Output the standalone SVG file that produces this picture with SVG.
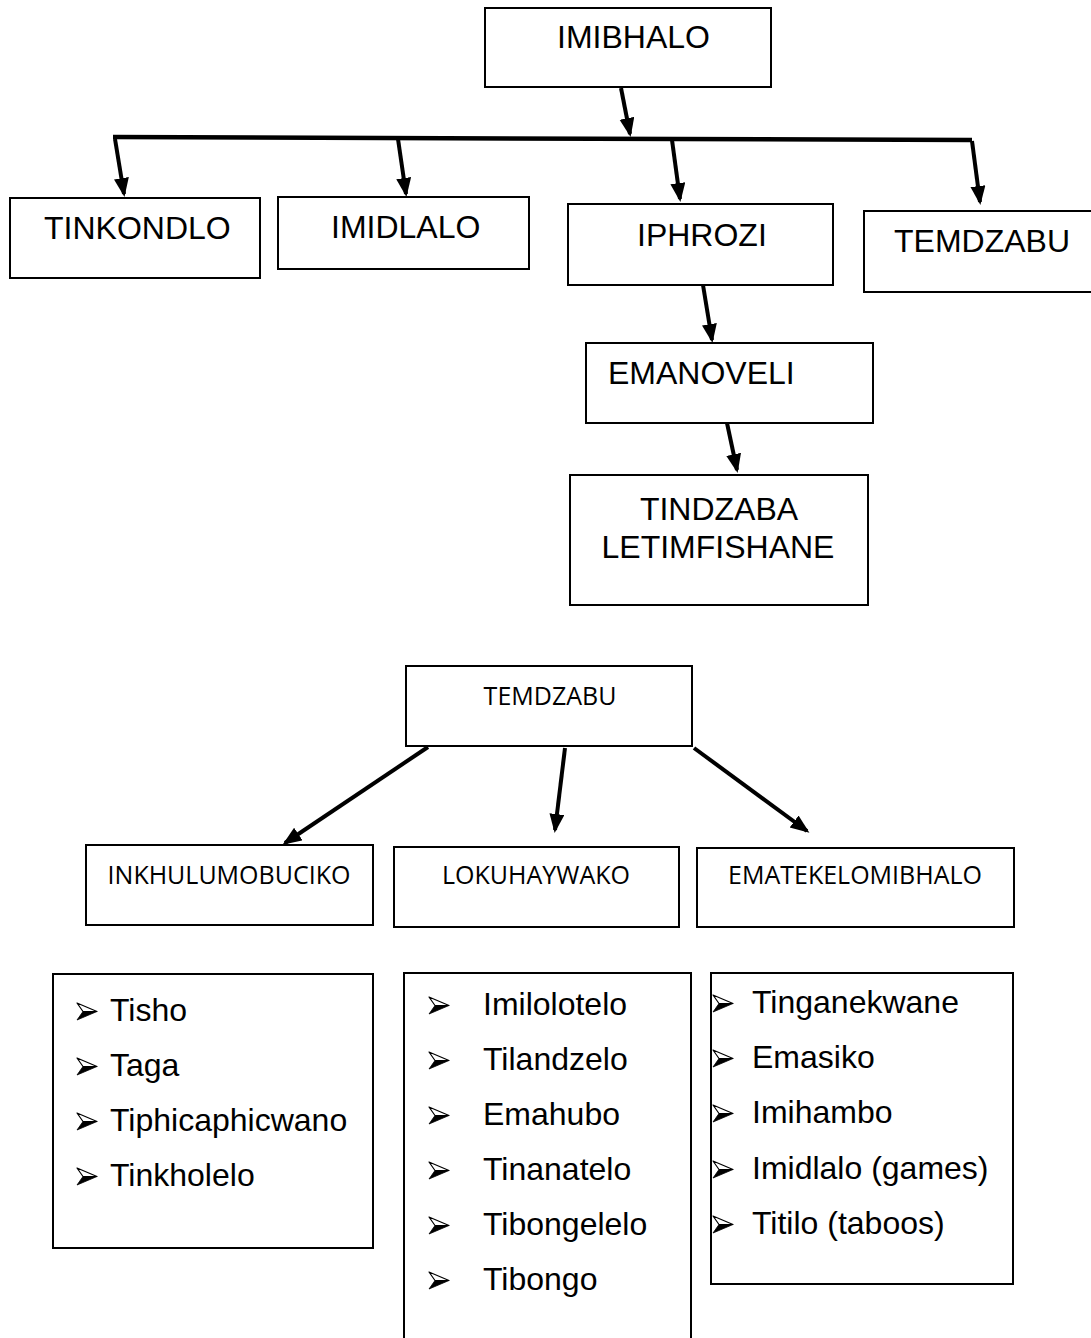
<svg xmlns="http://www.w3.org/2000/svg" width="1091" height="1338" viewBox="0 0 1091 1338">
<style>
.box{fill:#fff;stroke:#000;stroke-width:2}
.t1{font-family:"Liberation Sans",Arial,sans-serif;font-size:32px;fill:#000}
.t2{font-family:"Open Sans","Liberation Sans",sans-serif;font-size:25px;fill:#000}
.li{font-family:"Liberation Sans",Arial,sans-serif;font-size:32px;fill:#000}
.con{fill:none;stroke:#000;stroke-width:4;marker-end:url(#ah)}
</style>
<defs>
<marker id="ah" markerUnits="userSpaceOnUse" markerWidth="22" markerHeight="16" refX="16" refY="7.5" orient="auto">
<path d="M0,0 L19,7.5 L0,15 z" fill="#000"/>
</marker>
<g id="bul">
<path d="M0,0 L20,8.5 L6,8.5 z" fill="#fff" stroke="#000" stroke-width="1.2" stroke-linejoin="round"/>
<path d="M6,8.5 L20,8.5 L0,17 z" fill="#000" stroke="#000" stroke-width="0.8"/>
</g>
</defs>
<rect width="1091" height="1338" fill="#fff"/>

<g id="connectors">
<line class="con" x1="621" y1="88" x2="630" y2="134"/>
<line x1="113" y1="137" x2="972" y2="140" stroke="#000" stroke-width="4.5"/>
<line class="con" x1="115" y1="139" x2="124" y2="194"/>
<line class="con" x1="398" y1="139" x2="406" y2="194"/>
<line class="con" x1="672" y1="140" x2="680" y2="199"/>
<line class="con" x1="972" y1="141" x2="980" y2="202"/>
<line class="con" x1="703" y1="285" x2="712" y2="340"/>
<line class="con" x1="727" y1="423" x2="737" y2="470"/>
<line class="con" x1="428" y1="747" x2="285" y2="843"/>
<line class="con" x1="565" y1="748" x2="555" y2="830"/>
<line class="con" x1="694" y1="748" x2="807" y2="831"/>
</g>

<g id="imibhalo"><rect class="box" x="485" y="8" width="286" height="79"/><text class="t1" x="557" y="48">IMIBHALO</text></g>
<g id="tinkondlo"><rect class="box" x="10" y="198" width="250" height="80"/><text class="t1" x="44" y="239">TINKONDLO</text></g>
<g id="imidlalo"><rect class="box" x="278" y="197" width="251" height="72"/><text class="t1" x="331" y="238">IMIDLALO</text></g>
<g id="iphrozi"><rect class="box" x="568" y="204" width="265" height="81"/><text class="t1" x="637" y="246">IPHROZI</text></g>
<g id="temdzabu-top"><rect class="box" x="864" y="211" width="240" height="81"/><text class="t1" x="894" y="252">TEMDZABU</text></g>
<g id="emanoveli"><rect class="box" x="586" y="343" width="287" height="80"/><text class="t1" x="608" y="384">EMANOVELI</text></g>
<g id="tindzaba"><rect class="box" x="570" y="475" width="298" height="130"/><text class="t1" x="719" y="520" text-anchor="middle">TINDZABA</text><text class="t1" x="718" y="558" text-anchor="middle">LETIMFISHANE</text></g>

<g id="temdzabu"><rect class="box" x="406" y="666" width="286" height="80"/><text class="t2" x="550" y="705" text-anchor="middle">TEMDZABU</text></g>
<g id="inkhulumobuciko"><rect class="box" x="86" y="845" width="287" height="80"/><text class="t2" x="229" y="884" text-anchor="middle">INKHULUMOBUCIKO</text></g>
<g id="lokuhaywako"><rect class="box" x="394" y="847" width="285" height="80"/><text class="t2" x="536" y="884" text-anchor="middle">LOKUHAYWAKO</text></g>
<g id="ematekelomibhalo"><rect class="box" x="697" y="848" width="317" height="79"/><text class="t2" x="855" y="884" text-anchor="middle">EMATEKELOMIBHALO</text></g>

<g id="list1">
<rect class="box" x="53" y="974" width="320" height="274"/>
<use href="#bul" x="77" y="1003"/><text class="li" x="110" y="1021">Tisho</text>
<use href="#bul" x="77" y="1058"/><text class="li" x="110" y="1076">Taga</text>
<use href="#bul" x="77" y="1113"/><text class="li" x="110" y="1131">Tiphicaphicwano</text>
<use href="#bul" x="77" y="1168"/><text class="li" x="110" y="1186">Tinkholelo</text>
</g>
<g id="list2">
<rect class="box" x="404" y="973" width="287" height="380"/>
<use href="#bul" x="429" y="997"/><text class="li" x="483" y="1015">Imilolotelo</text>
<use href="#bul" x="429" y="1052"/><text class="li" x="483" y="1070">Tilandzelo</text>
<use href="#bul" x="429" y="1107"/><text class="li" x="483" y="1125">Emahubo</text>
<use href="#bul" x="429" y="1162"/><text class="li" x="483" y="1180">Tinanatelo</text>
<use href="#bul" x="429" y="1217"/><text class="li" x="483" y="1235">Tibongelelo</text>
<use href="#bul" x="429" y="1272"/><text class="li" x="483" y="1290">Tibongo</text>
</g>
<g id="list3">
<rect class="box" x="711" y="973" width="302" height="311"/>
<use href="#bul" x="713" y="995"/><text class="li" x="752" y="1013">Tinganekwane</text>
<use href="#bul" x="713" y="1050"/><text class="li" x="752" y="1068">Emasiko</text>
<use href="#bul" x="713" y="1105"/><text class="li" x="752" y="1123">Imihambo</text>
<use href="#bul" x="713" y="1161"/><text class="li" x="752" y="1179">Imidlalo (games)</text>
<use href="#bul" x="713" y="1216"/><text class="li" x="752" y="1234">Titilo (taboos)</text>
</g>
</svg>
